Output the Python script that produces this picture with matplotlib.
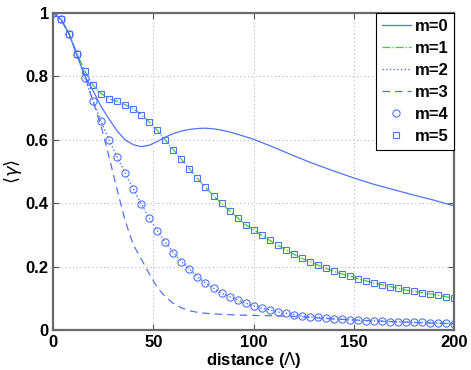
import numpy as np
import matplotlib
matplotlib.use("Agg")
import matplotlib.pyplot as plt

plt.rcParams['font.family'] = ['Liberation Sans', 'DejaVu Sans']

# marker grid (every 4 units)
x_mk = [0, 4, 8, 12, 16, 20, 24, 28, 32, 36, 40, 44, 48, 52, 56, 60, 64, 68, 72, 76,
        80, 84, 88, 92, 96, 100, 104, 108, 112, 116, 120, 124, 128, 132, 136, 140,
        144, 148, 152, 156, 160, 164, 168, 172, 176, 180, 184, 188, 192, 196, 200]

m5 = [1.0, 0.980, 0.934, 0.870, 0.816, 0.772, 0.746, 0.729, 0.722, 0.711, 0.698,
      0.680, 0.656, 0.630, 0.599, 0.569, 0.539, 0.509, 0.479, 0.451, 0.424, 0.400,
      0.377, 0.355, 0.333, 0.317, 0.300, 0.284, 0.269, 0.254, 0.240, 0.227, 0.217,
      0.206, 0.196, 0.186, 0.178, 0.171, 0.163, 0.156, 0.149, 0.144, 0.138, 0.133,
      0.127, 0.123, 0.119, 0.115, 0.111, 0.106, 0.101]
m1 = list(m5)

m4 = [1.0, 0.980, 0.934, 0.870, 0.794, 0.724, 0.659, 0.599, 0.546, 0.495, 0.446,
      0.398, 0.353, 0.314, 0.278, 0.245, 0.217, 0.193, 0.169, 0.149, 0.133, 0.117,
      0.106, 0.096, 0.086, 0.078, 0.070, 0.065, 0.058, 0.054, 0.050, 0.046, 0.043,
      0.041, 0.039, 0.037, 0.035, 0.033, 0.032, 0.031, 0.030, 0.029, 0.028, 0.027,
      0.026, 0.025, 0.025, 0.024, 0.023, 0.022, 0.021]
m2 = list(m4)

x_m3 = [0, 4, 8, 12, 16, 20, 24, 28, 32, 36, 40, 44, 48, 52, 56, 60, 64, 68, 72, 76,
        80, 90, 100, 110, 120, 140, 160, 180, 200]
m3 = [1.0, 0.980, 0.934, 0.870, 0.800, 0.720, 0.643, 0.545, 0.442, 0.345, 0.270,
      0.225, 0.178, 0.135, 0.106, 0.085, 0.071, 0.062, 0.057, 0.054, 0.052, 0.049,
      0.047, 0.046, 0.044, 0.036, 0.030, 0.025, 0.021]

x_m0 = [0, 4, 8, 12, 16, 20, 24, 28, 32, 36, 40, 44, 48, 52, 56, 60, 64, 68, 72, 76,
        80, 84, 88, 92, 96, 100, 110, 120, 130, 140, 150, 160, 170, 180, 190, 200]
m0 = [1.0, 0.980, 0.934, 0.865, 0.800, 0.755, 0.705, 0.665, 0.628, 0.600, 0.585,
      0.579, 0.583, 0.595, 0.609, 0.620, 0.628, 0.633, 0.636, 0.637, 0.635, 0.631,
      0.625, 0.618, 0.610, 0.602, 0.577, 0.550, 0.525, 0.502, 0.480, 0.460, 0.443,
      0.426, 0.410, 0.392]

xticks = [0, 50, 100, 150, 200]
xtick_labels = ['0', '50', '100', '150', '200']
yticks = [0, 0.2, 0.4, 0.6, 0.8, 1.0]
ytick_labels = ['0', '0.2', '0.4', '0.6', '0.8', '1']
labels = ['m=0', 'm=1', 'm=2', 'm=3', 'm=4', 'm=5']

blue = '#5073ff'
green = '#3ccc3c'

fig = plt.figure(figsize=(4.71, 3.70), dpi=100)
ax = fig.add_axes([0.1125, 0.107, 0.852, 0.858])

lw = 0.9
ax.plot(x_m0, m0, '-', color=blue, lw=lw, label=labels[0])
ax.plot(x_mk, m1, '-.', color=green, lw=lw, label=labels[1])
ax.plot(x_mk, m2, ':', color=blue, lw=1.0, label=labels[2])
ax.plot(x_m3, m3, '--', color=blue, lw=lw, dashes=(6, 4), label=labels[3])
ax.plot(x_mk, m4, 'o', color=blue, mfc='none', mec=blue, ms=5.2, mew=0.8,
        linestyle='none', label=labels[4])
ax.plot(x_mk, m5, 's', color=blue, mfc='none', mec=blue, ms=4.8, mew=0.8,
        linestyle='none', label=labels[5])

ax.set_xlim(0, 200)
ax.set_ylim(0, 1)
ax.set_xticks(xticks)
ax.set_xticklabels(xtick_labels)
ax.set_yticks(yticks)
ax.set_yticklabels(ytick_labels)
ax.tick_params(direction='in', top=True, right=True, length=4, width=0.8,
               color='#555555', labelsize=12, pad=3)
for lab in ax.get_xticklabels() + ax.get_yticklabels():
    lab.set_fontweight('bold')
for s in ax.spines.values():
    s.set_color('#6a6a6a')
    s.set_linewidth(1.6)
ax.grid(True, linestyle=(0, (1, 3)), color='#aaaaaa', lw=0.7)

ax.set_xlabel('distance ($\\Lambda$)', fontsize=12, fontweight='bold', labelpad=0)
ax.set_ylabel('$\\langle\\gamma\\rangle$', fontsize=13)
ax.yaxis.set_label_coords(-0.072, 0.5)

leg = ax.legend(loc='upper right', frameon=True, fancybox=False,
                edgecolor='black', framealpha=1, borderpad=0.35, labelspacing=0.42,
                handlelength=1.7, handletextpad=0.25, borderaxespad=0.0,
                prop={'weight': 'bold', 'size': 12})
leg.get_frame().set_linewidth(0.8)

fig.savefig('out.png', dpi=100)
